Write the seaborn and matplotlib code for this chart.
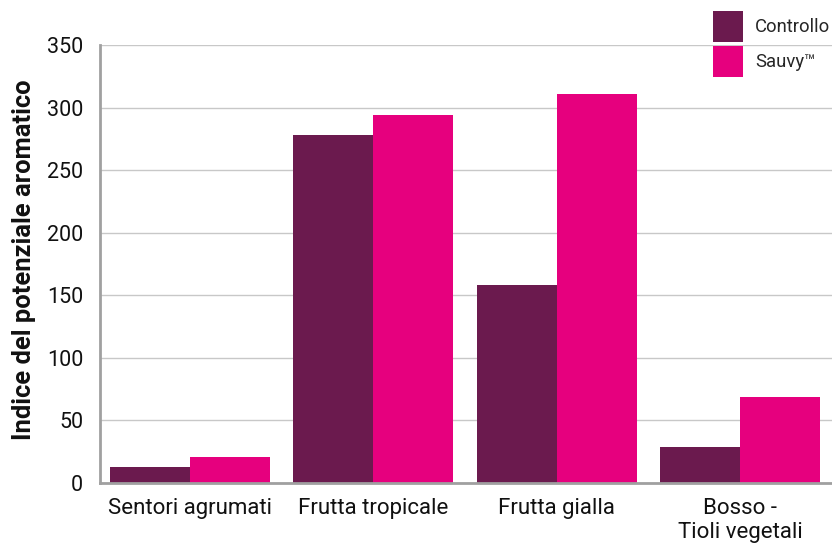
import matplotlib
matplotlib.use("Agg")
import matplotlib.pyplot as plt
import seaborn as sns
import pandas as pd

categories = ["Sentori agrumati", "Frutta tropicale", "Frutta gialla", "Bosso -\nTioli vegetali"]
series_names = ["Controllo", "Sauvy™"]
controllo = [13, 278, 158, 29]
sauvy = [21, 294, 311, 69]
y_ticks = [0, 50, 100, 150, 200, 250, 300, 350]
y_label = "Indice del potenziale aromatico"

df = pd.DataFrame({
    "cat": categories * 2,
    "serie": [series_names[0]] * 4 + [series_names[1]] * 4,
    "val": controllo + sauvy,
})

sns.set_theme(style="white")
plt.rcParams["font.family"] = ["Roboto", "DejaVu Sans"]

W, H = 832, 546
fig = plt.figure(figsize=(8.32, 5.46), dpi=100)
ax = fig.add_axes([100 / W, 1 - 483 / H, 1 - 100 / W, (483 - 45) / H])

sns.barplot(data=df, x="cat", y="val", hue="serie", order=categories,
            hue_order=series_names, palette=["#6B1A4E", "#E6007E"],
            width=0.872, saturation=1, linewidth=0, ax=ax, legend=True)

ax.set_ylim(0, 350)
ax.set_xlim(-0.49, 3.5)
ax.set_yticks(y_ticks)
ax.set_yticklabels([str(t) for t in y_ticks], fontsize=15.5, color="#111111")
ax.tick_params(axis="x", labelsize=16, colors="#111111", pad=11, length=0)
ax.tick_params(axis="y", pad=12, length=0)
ax.set_xlabel("")
ax.set_ylabel(y_label, fontsize=18.4, fontweight="bold", color="#111111")
ax.yaxis.set_label_coords(-0.087, 0.509)
ax.yaxis.grid(True, color="#c8c8c8", linewidth=1)
ax.set_axisbelow(True)
for s in ["top", "right"]:
    ax.spines[s].set_visible(False)
for s in ["left", "bottom"]:
    ax.spines[s].set_color("#a0a0a0")
    ax.spines[s].set_linewidth(2)

# legend: patches 30x31 px, 4 px apart, first patch top-left at (713, 11)
fs = 13.3
fs_px = fs * 100 / 72
target_h, target_gap, target_top, target_x = 31.0, 4.0, H - 11.0, 713.0
hh, ls, ax_x, ax_y = 2.2, 0.1, target_x / W, 1 - 11 / H
renderer = fig.canvas.get_renderer()
for _ in range(4):
    leg = ax.legend(loc="upper left", bbox_to_anchor=(ax_x, ax_y),
                    bbox_transform=fig.transFigure, frameon=False, fontsize=fs,
                    handlelength=1.62, handleheight=hh, handletextpad=0.65,
                    labelspacing=ls, borderaxespad=0, borderpad=0)
    fig.canvas.draw()
    p0 = leg.legend_handles[0].get_window_extent(renderer)
    p1 = leg.legend_handles[1].get_window_extent(renderer)
    hh += (target_h - p0.height) / (0.65 * fs_px)
    ls += (target_gap - (p0.y0 - p1.y1)) / fs_px
    ax_y += (target_top - p0.y1) / H
    ax_x += (target_x - p0.x0) / W

fig.savefig("out.png", dpi=100)
